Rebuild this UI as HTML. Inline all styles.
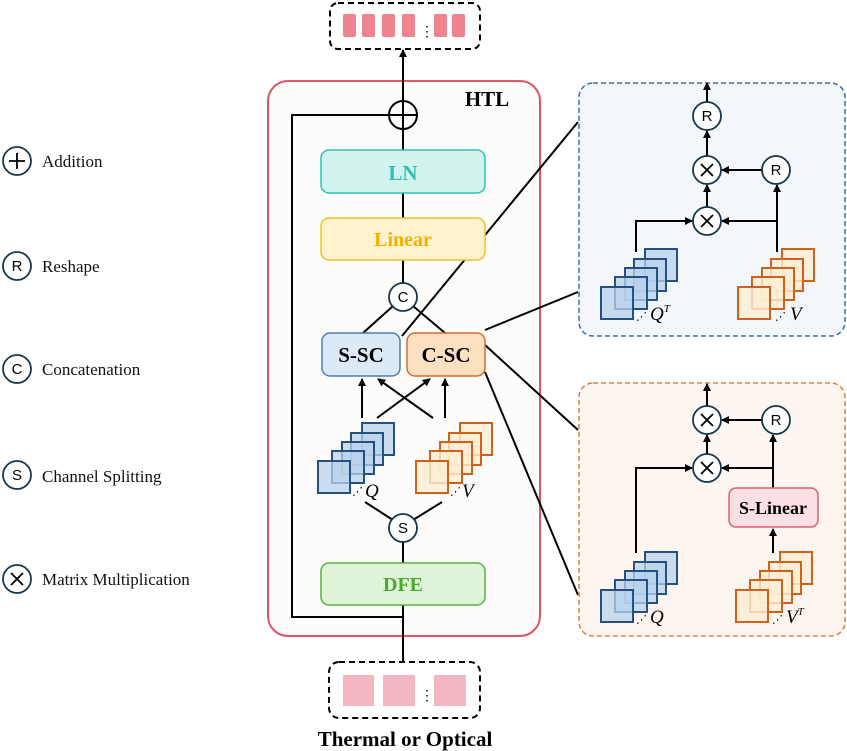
<!DOCTYPE html>
<html><head><meta charset="utf-8"><style>body{margin:0;background:#fff}svg{display:block}</style></head><body>
<svg width="847" height="751" viewBox="0 0 847 751" xmlns="http://www.w3.org/2000/svg" font-family="Liberation Serif, serif">
<defs>
<marker id="a" markerWidth="8" markerHeight="8" refX="7" refY="4" orient="auto" markerUnits="userSpaceOnUse"><path d="M0,0 L8,4 L0,8 z" fill="#000"/></marker>
<g id="bs"><rect x="44" y="-38" width="32" height="32"/><rect x="33" y="-28" width="32" height="32"/><rect x="24" y="-19" width="32" height="32"/><rect x="14" y="-10" width="32" height="32"/><rect x="0" y="0" width="32" height="32"/></g>
</defs>
<!-- legend -->
<g fill="none" stroke="#16374a" stroke-width="1.8">
<circle cx="17" cy="161" r="14"/><circle cx="17" cy="266" r="14"/><circle cx="17" cy="369" r="14"/><circle cx="17" cy="475" r="14"/><circle cx="17" cy="579" r="14"/>
<path d="M9,161H25M17,153V169" stroke="#000"/><path d="M11,573L23,585M23,573L11,585" stroke="#000"/>
</g>
<g font-family="Liberation Sans, sans-serif" font-size="15" text-anchor="middle">
<text x="17" y="271">R</text><text x="17" y="374">C</text><text x="17" y="480">S</text></g>
<g font-size="17" fill="#111"><text x="42" y="167">Addition</text><text x="42" y="272">Reshape</text><text x="42" y="375">Concatenation</text><text x="42" y="482">Channel Splitting</text><text x="42" y="585">Matrix Multiplication</text></g>
<!-- top output box -->
<rect x="330" y="3" width="150" height="46" rx="8" fill="#fff" stroke="#000" stroke-width="2" stroke-dasharray="6,4"/>
<g fill="#ef8390"><rect x="343" y="14" width="13" height="23" rx="2"/><rect x="362" y="14" width="13" height="23" rx="2"/><rect x="382" y="14" width="13" height="23" rx="2"/><rect x="402" y="14" width="13" height="23" rx="2"/><rect x="434" y="14" width="13" height="23" rx="2"/><rect x="452" y="14" width="13" height="23" rx="2"/></g>
<text x="427" y="36" font-size="14" text-anchor="middle">⋮</text>
<!-- HTL -->
<rect x="268" y="81" width="272" height="555" rx="20" fill="#fdfcfa" stroke="#e25365" stroke-width="2"/>
<text x="487" y="106" font-size="21" font-weight="bold" text-anchor="middle">HTL</text>
<g stroke="#000" stroke-width="2" fill="none">
<path d="M402,336L578,122M485,330L578,292M485,345L578,430M485,372L578,595"/>
<circle cx="403" cy="115" r="14" fill="#fdfcfa"/>
<path d="M403,283V50" marker-end="url(#a)"/>
<path d="M403,662V542"/>
<path d="M417,115H292V617H403"/>
<path d="M363,333L393,306M445,333L413,306"/>
<path d="M362,418V379" marker-end="url(#a)"/><path d="M445,418V379" marker-end="url(#a)"/>
<path d="M377,418L430,379" marker-end="url(#a)"/><path d="M433,418L378,379" marker-end="url(#a)"/>
<path d="M365,502L393,520M442,502L413,520"/>
</g>
<rect x="321" y="150" width="164" height="43" rx="8" fill="#d3f3ef" stroke="#2ebfb0" stroke-width="1.5"/>
<text x="403" y="180" font-size="21" font-weight="bold" fill="#2ebfb0" text-anchor="middle">LN</text>
<rect x="321" y="218" width="164" height="42" rx="8" fill="#fff2cc" stroke="#f0c030" stroke-width="1.5"/>
<text x="403" y="246" font-size="20" font-weight="bold" fill="#f0b400" text-anchor="middle">Linear</text>
<circle cx="403" cy="297" r="14" fill="#fff" stroke="#16374a" stroke-width="1.8"/>
<text x="403" y="302" font-family="Liberation Sans, sans-serif" font-size="15" text-anchor="middle">C</text>
<rect x="322" y="333" width="78" height="43" rx="8" fill="#dce9f7" stroke="#4a7fb5" stroke-width="1.5"/>
<text x="361" y="362" font-size="21" font-weight="bold" text-anchor="middle">S-SC</text>
<rect x="407" y="333" width="78" height="43" rx="8" fill="#fde0bf" stroke="#d07030" stroke-width="1.5"/>
<text x="446" y="362" font-size="21" font-weight="bold" text-anchor="middle">C-SC</text>
<use href="#bs" x="318" y="461" fill="#b8d2ec" fill-opacity="0.75" stroke="#25507f" stroke-width="2"/>
<use href="#bs" x="416" y="461" fill="#fdeed5" fill-opacity="0.8" stroke="#d0601a" stroke-width="2"/>
<text x="352" y="495" font-size="11">⋰</text><text x="365" y="497" font-size="19" font-style="italic">Q</text>
<text x="450" y="495" font-size="11">⋰</text><text x="462" y="497" font-size="19" font-style="italic">V</text>
<circle cx="403" cy="528" r="14" fill="#fff" stroke="#16374a" stroke-width="1.8"/>
<text x="403" y="533" font-family="Liberation Sans, sans-serif" font-size="15" text-anchor="middle">S</text>
<rect x="321" y="563" width="164" height="42" rx="8" fill="#e0f4da" stroke="#5cb040" stroke-width="1.5"/>
<text x="403" y="591" font-size="20" font-weight="bold" fill="#4aa830" text-anchor="middle">DFE</text>
<!-- bottom input -->
<rect x="329" y="662" width="151" height="56" rx="10" fill="#fff" stroke="#000" stroke-width="2" stroke-dasharray="6,4"/>
<g fill="#f4b6c0"><rect x="343" y="675" width="31" height="31"/><rect x="383" y="675" width="32" height="31"/><rect x="434" y="675" width="32" height="31"/></g>
<text x="427" y="700" font-size="14" text-anchor="middle">⋮</text>
<text x="405" y="746" font-size="21" font-weight="bold" text-anchor="middle">Thermal or Optical</text>
<!-- right top -->
<rect x="579" y="83" width="266" height="253" rx="14" fill="#f3f7fb" stroke="#3a6ea5" stroke-width="1.5" stroke-dasharray="5,3"/>
<g stroke="#000" stroke-width="2" fill="none">
<path d="M707,102V83" marker-end="url(#a)"/><path d="M707,156V131" marker-end="url(#a)"/>
<path d="M762,170H722" marker-end="url(#a)"/><path d="M707,207V185" marker-end="url(#a)"/>
<path d="M636,252V221H692" marker-end="url(#a)"/><path d="M777,252V185" marker-end="url(#a)"/>
<path d="M777,221H722" marker-end="url(#a)"/>
</g>
<g fill="#fff" stroke="#16374a" stroke-width="1.8"><circle cx="707" cy="116" r="14"/><circle cx="707" cy="170" r="14"/><circle cx="776" cy="170" r="14"/><circle cx="707" cy="221" r="14"/></g>
<g stroke="#000" stroke-width="1.8"><path d="M701,164L713,176M713,164L701,176M701,215L713,227M713,215L701,227"/></g>
<g font-family="Liberation Sans, sans-serif" font-size="15" text-anchor="middle"><text x="707" y="121">R</text><text x="776" y="175">R</text></g>
<use href="#bs" x="601" y="287" fill="#b8d2ec" fill-opacity="0.75" stroke="#25507f" stroke-width="2"/>
<use href="#bs" x="738" y="287" fill="#fdeed5" fill-opacity="0.8" stroke="#d0601a" stroke-width="2"/>
<text x="636" y="320" font-size="11">⋰</text><text x="650" y="320" font-size="19" font-style="italic">Q<tspan font-size="11" dy="-8">T</tspan></text>
<text x="775" y="320" font-size="11">⋰</text><text x="790" y="320" font-size="19" font-style="italic">V</text>
<!-- right bottom -->
<rect x="579" y="383" width="266" height="253" rx="14" fill="#fdf6f0" stroke="#e08040" stroke-width="1.5" stroke-dasharray="5,3"/>
<g stroke="#000" stroke-width="2" fill="none">
<path d="M707,406V384" marker-end="url(#a)"/>
<path d="M762,420H722" marker-end="url(#a)"/><path d="M707,454V435" marker-end="url(#a)"/>
<path d="M636,553V468H692" marker-end="url(#a)"/><path d="M773,488V435" marker-end="url(#a)"/>
<path d="M773,468H722" marker-end="url(#a)"/><path d="M773,553V529" marker-end="url(#a)"/>
</g>
<g fill="#fff" stroke="#16374a" stroke-width="1.8"><circle cx="707" cy="420" r="14"/><circle cx="776" cy="420" r="14"/><circle cx="707" cy="468" r="14"/></g>
<g stroke="#000" stroke-width="1.8"><path d="M701,414L713,426M713,414L701,426M701,462L713,474M713,462L701,474"/></g>
<text x="776" y="425" font-family="Liberation Sans, sans-serif" font-size="15" text-anchor="middle">R</text>
<rect x="729" y="488" width="89" height="39" rx="7" fill="#fde0e4" stroke="#e06070" stroke-width="1.5"/>
<text x="773" y="514" font-size="18" font-weight="bold" text-anchor="middle">S-Linear</text>
<use href="#bs" x="601" y="590" fill="#b8d2ec" fill-opacity="0.75" stroke="#25507f" stroke-width="2"/>
<use href="#bs" x="736" y="590" fill="#fdeed5" fill-opacity="0.8" stroke="#d0601a" stroke-width="2"/>
<text x="636" y="623" font-size="11">⋰</text><text x="650" y="623" font-size="19" font-style="italic">Q</text>
<text x="772" y="623" font-size="11">⋰</text><text x="786" y="623" font-size="19" font-style="italic">V<tspan font-size="11" dy="-8">T</tspan></text>
</svg>
</body></html>
